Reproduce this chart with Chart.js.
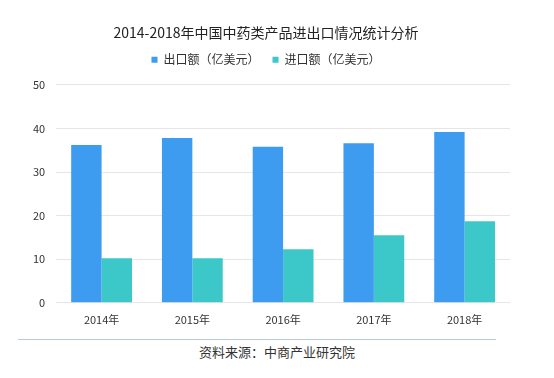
<!DOCTYPE html>
<html><head><meta charset="utf-8">
<script src="https://cdn.jsdelivr.net/npm/chart.js@4"></script>
<style>
html,body{margin:0;padding:0;background:#fff;}
#wrap{position:relative;width:554px;height:378px;}
#c{position:absolute;left:0;top:0;}
#line{position:absolute;left:18px;top:339px;width:478px;height:0;border-top:1px solid #b7c9e2;}
#src{position:absolute;left:0;width:554px;top:342px;text-align:center;font:13px "Noto Sans CJK SC",sans-serif;color:#333;}
</style></head>
<body><div id="wrap"><canvas id="c" width="554" height="328"></canvas><div id="line"></div><div id="src">资料来源：中商产业研究院</div></div>
<script>
const categories = ["2014年","2015年","2016年","2017年","2018年"];
const exportValues = [36.2, 37.8, 35.8, 36.6, 39.2];
const importValues = [10.2, 10.2, 12.3, 15.5, 18.7];
const seriesNames = ["出口额（亿美元）","进口额（亿美元）"];
const titleText = "2014-2018年中国中药类产品进出口情况统计分析";
const font = '"Noto Sans CJK SC", sans-serif';
const legendGap = {
  id: 'legendGap',
  afterInit(chart) {
    const orig = chart.legend.fit;
    chart.legend.fit = function() { orig.call(this); this.height += 9; };
  }
};
new Chart(document.getElementById('c'), {
  type: 'bar',
  data: {
    labels: categories,
    datasets: [
      {label: seriesNames[0], data: exportValues, backgroundColor: '#3d9cf0', borderWidth: 0, barPercentage: 1, categoryPercentage: 0.67},
      {label: seriesNames[1], data: importValues, backgroundColor: '#3cc8c8', borderWidth: 0, barPercentage: 1, categoryPercentage: 0.67}
    ]
  },
  plugins: [legendGap],
  options: {
    responsive: false,
    animation: false,
    devicePixelRatio: 1,
    layout: {padding: {left: 22, right: 44, top: 24, bottom: 0}},
    plugins: {
      title: {display: true, text: titleText, color: '#222', font: {family: font, size: 14, weight: 'normal'}, padding: {top: 0, bottom: 0}},
      legend: {labels: {boxWidth: 6, boxHeight: 6, color: '#333', padding: 13, font: {family: font, size: 12}}},
      tooltip: {enabled: false}
    },
    scales: {
      x: {grid: {display: false}, border: {display: false}, ticks: {color: '#333', font: {family: font, size: 11}, padding: 2}},
      y: {min: 0, max: 50, ticks: {stepSize: 10, color: '#333', font: {family: font, size: 11}, padding: 11},
          grid: {color: '#e6e6e6', drawTicks: false}, border: {display: false}}
    }
  }
});
</script></body></html>
